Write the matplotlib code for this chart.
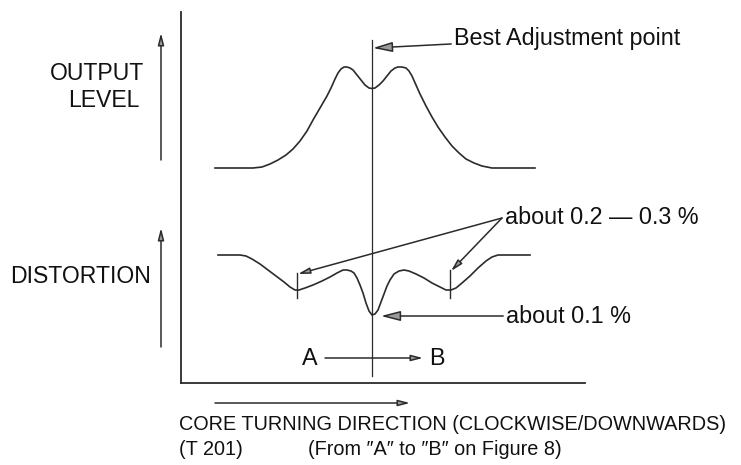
#!/usr/bin/env python3

import matplotlib.pyplot as plt

plt.rcParams["font.family"] = ["Liberation Sans", "DejaVu Sans"]

INK = "#2b2b2b"

# curves, in picture units (x right, y down)
output_x = [215, 253, 262, 270, 278, 286, 293, 300, 307, 313, 320, 327, 331, 335,
            338, 341, 344, 347, 350, 353, 357, 361, 365, 369, 372, 375, 379, 383,
            387, 391, 395, 398, 402, 406, 409, 412, 416, 420, 426, 432, 438, 445,
            452, 459, 466, 474, 482, 492, 535]
output_y = [168, 168, 167, 164, 160, 155, 149, 141, 131, 120, 108, 96, 88, 79,
            73, 69, 67, 67, 68, 70, 75, 80, 85, 88, 88.5, 88, 85, 81,
            76, 71, 68, 67, 67, 68, 71, 76, 85, 94, 106, 117, 127, 137,
            146, 153, 159, 163, 166, 168, 168]

distortion_x = [218, 240, 246, 252, 260, 268, 276, 284, 290, 295, 299, 305, 313,
                322, 330, 337, 343, 347, 351, 354, 357, 360, 363, 366, 369, 372,
                375, 378, 381, 384, 387, 390, 394, 399, 404, 409, 416, 424, 432,
                440, 446, 451, 456, 462, 470, 478, 486, 492, 498, 530]
distortion_y = [255, 255, 256, 259, 264, 270, 276, 282, 287, 290, 290, 288, 285,
                281, 277, 273, 270, 270, 271, 273, 278, 285, 293, 303, 311, 315,
                314, 310, 302, 294, 286, 280, 274, 271, 270, 271, 274, 278, 283,
                287, 290, 290, 288, 283, 276, 268, 261, 257, 255, 255]

best_x = 372
minima_x = [297, 450]
tick_top = [273, 270]
tick_bottom = 298

fig = plt.figure(figsize=(7.41, 4.65), dpi=100)
ax = fig.add_axes([0, 0, 1, 1])
ax.set_xlim(0, 741)
ax.set_ylim(465, 0)
ax.axis("off")

# chart frame
ax.plot([181, 181], [12, 383], color=INK, lw=1.3)
ax.plot([181, 585], [383, 383], color=INK, lw=1.3)

ax.plot(output_x, output_y, color=INK, lw=1.2)
ax.plot(distortion_x, distortion_y, color=INK, lw=1.2)
ax.plot([best_x, best_x], [40, 376], color=INK, lw=0.9)
for x, top in zip(minima_x, tick_top):
    ax.plot([x, x], [top, tick_bottom], color=INK, lw=1.0)

arrow = dict(arrowstyle="-|>,head_length=0.7,head_width=0.18", ec=INK,
             fc="#9a9a9a", lw=1.1, shrinkA=0, shrinkB=0)
label = dict(color="#111111", fontsize=16.6)
note = dict(color="#111111", fontsize=16.8)
caption = dict(color="#111111", fontsize=14.3)

ax.annotate("", xy=(161, 33), xytext=(161, 160), arrowprops=arrow)
ax.annotate("", xy=(161, 228), xytext=(161, 347), arrowprops=arrow)
ax.annotate("", xy=(410, 403), xytext=(215, 403), arrowprops=arrow)

ax.text(97, 74, "OUTPUT", ha="center", va="center", **label)
ax.text(103.5, 100, "LEVEL", ha="center", va="center", **label)
ax.text(81, 276, "DISTORTION", ha="center", va="center", **label)

ax.annotate("Best Adjustment point", xy=(373, 48), xytext=(454, 38),
            va="center", ha="left", arrowprops=arrow, **note)
ax.text(505, 217, "about 0.2 \u2014 0.3 %", va="center", ha="left", **note)
for x, top in zip(minima_x, tick_top):
    ax.annotate("", xy=(x + 1, top + 1), xytext=(502, 218), arrowprops=arrow)
ax.annotate("about 0.1 %", xy=(381, 316), xytext=(506, 316),
            va="center", ha="left", arrowprops=arrow, **note)

ax.text(310, 358, "A", ha="center", va="center", **note)
ax.text(437, 358, "B", ha="center", va="center", **note)
ax.annotate("", xy=(423, 358), xytext=(325, 358), arrowprops=arrow)

ax.text(179, 424, "CORE TURNING DIRECTION (CLOCKWISE/DOWNWARDS)",
        ha="left", va="center", **caption)
ax.text(179, 449, "(T 201)", ha="left", va="center", **caption)
ax.text(308, 449, "(From \u2033A\u2033 to \u2033B\u2033 on Figure 8)",
        ha="left", va="center", **caption)

fig.savefig("out.png", dpi=100)
